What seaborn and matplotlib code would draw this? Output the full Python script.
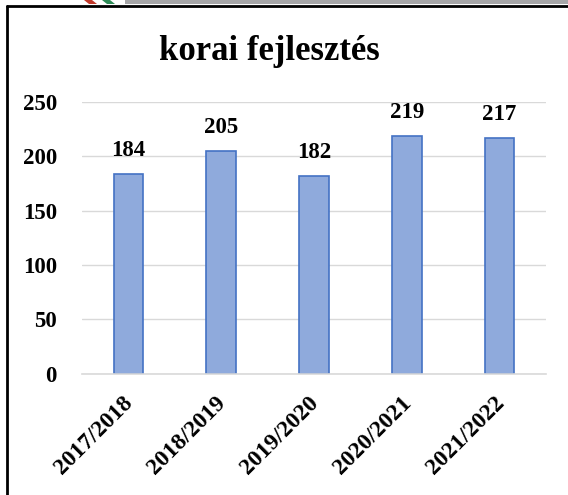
import numpy as np
import pandas as pd
import seaborn as sns
import matplotlib.pyplot as plt
import matplotlib.transforms as mtransforms
from matplotlib.patches import Polygon, Rectangle
from matplotlib.lines import Line2D

#_____ data
years = ['2017/2018', '2018/2019', '2019/2020', '2020/2021', '2021/2022']
values = [184, 205, 182, 219, 217]
df = pd.DataFrame({'year': years, 'value': values})

sns.set_style('white')
plt.rcParams['font.family'] = ['Liberation Serif', 'DejaVu Serif']
plt.rcParams['text.color'] = 'black'
plt.rcParams['xtick.color'] = 'black'
plt.rcParams['ytick.color'] = 'black'

W, H = 568, 495
fig = plt.figure(figsize=(W / 100, H / 100), dpi=100)
ax = fig.add_axes([82 / W, 1 - 373.7 / H, (546 - 82) / W, (373.7 - 102) / H])

sns.barplot(data=df, x='year', y='value', ax=ax, color='#8FAADC',
            edgecolor='#4472C4', linewidth=1.2, width=0.32, saturation=1)

ax.set_ylim(0, 250)
ax.set_yticks(np.arange(0, 251, 50))
ax.yaxis.grid(True, color='#D9D9D9', linewidth=1)
ax.set_axisbelow(True)
for s in ['top', 'right', 'left']:
    ax.spines[s].set_visible(False)
ax.spines['bottom'].set_color('#D9D9D9')
ax.spines['bottom'].set_linewidth(1.2)
ax.tick_params(axis='y', length=0, pad=18, labelcolor='black')
ax.tick_params(axis='x', length=0, pad=4, labelcolor='black')
ax.set_xlabel('')
ax.set_ylabel('')
for lab in ax.get_yticklabels():
    lab.set_fontsize(16.5)
    lab.set_fontweight('bold')
ax.set_xticks(range(len(years)))
ax.set_xticklabels(years)
shift = mtransforms.ScaledTranslation(-6 / 100, -13 / 100, fig.dpi_scale_trans)
for lab in ax.get_xticklabels():
    lab.set_fontsize(17)
    lab.set_fontweight('bold')
    lab.set_rotation(45)
    lab.set_ha('right')
    lab.set_rotation_mode('anchor')
    lab.set_transform(lab.get_transform() + shift)

# value labels
for i, v in enumerate(values):
    ax.annotate(str(v), (i, v), xytext=(0, 9), textcoords='offset points',
                ha='center', va='bottom', fontsize=16.5, fontweight='bold',
                color='black')

fig.text(269 / W, 1 - 51 / H, 'korai fejlesztés', ha='center', va='center',
         fontsize=25, fontweight='bold', color='black')

# frame and header decoration
fig.add_artist(Line2D([7 / W, 7 / W], [0, 1 - 6 / H], color='black', lw=2,
                      transform=fig.transFigure))
fig.add_artist(Line2D([7 / W, 1], [1 - 6 / H, 1 - 6 / H], color='black', lw=2,
                      transform=fig.transFigure))
fig.add_artist(Rectangle((125 / W, 1 - 4 / H), 1, 4 / H, color='#A6A6A8',
                         transform=fig.transFigure, lw=0))
for x0, c in [(84, '#C0392B'), (102, '#2E8B57')]:
    pts = [(x0, 0), (x0 + 8, 0), (x0 + 13, 4), (x0 + 5, 4)]
    fig.add_artist(Polygon([(px / W, 1 - py / H) for px, py in pts], color=c,
                           transform=fig.transFigure, lw=0))

fig.savefig('out.png', dpi=100)
